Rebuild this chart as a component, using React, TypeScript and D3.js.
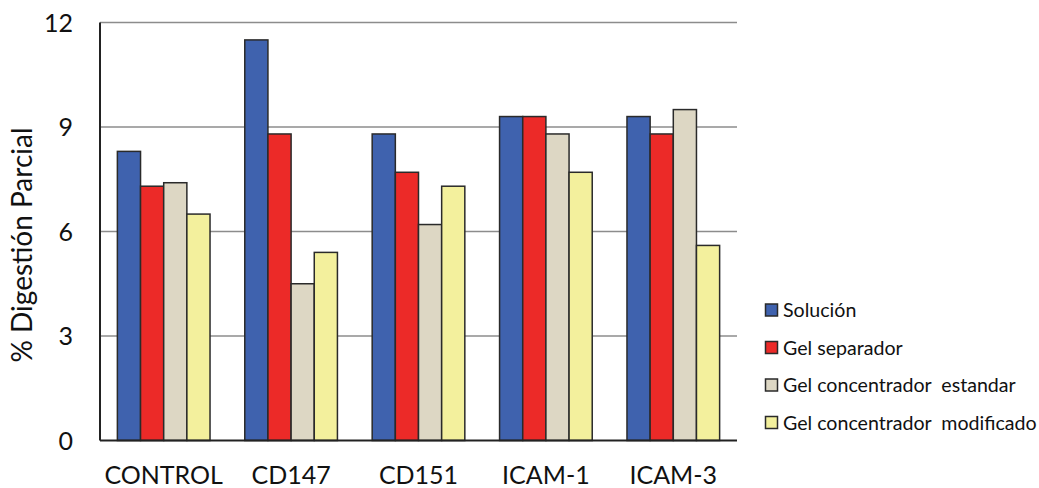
import React from "react";
import * as d3 from "d3";

const categories = ["CONTROL", "CD147", "CD151", "ICAM-1", "ICAM-3"];
const seriesNames = [
  "Solución",
  "Gel separador",
  "Gel concentrador  estandar",
  "Gel concentrador  modificado",
];
const solucion = [8.3, 11.5, 8.8, 9.3, 9.3];
const gelSeparador = [7.3, 8.8, 7.7, 9.3, 8.8];
const gelEstandar = [7.4, 4.5, 6.2, 8.8, 9.5];
const gelModificado = [6.5, 5.4, 7.3, 7.7, 5.6];
const yTicks = [0, 3, 6, 9, 12];

const colors = ["#3F62AE", "#EC2A28", "#DDD7C4", "#F3F09D"];
const FONT = "Lato, 'Open Sans', sans-serif";

export default function App() {
  const width = 1039;
  const height = 488;
  const m = { left: 100, right: 737, top: 22.5, bottom: 440.5 };

  const series = [solucion, gelSeparador, gelEstandar, gelModificado];

  const x0 = d3
    .scaleBand<string>()
    .domain(categories)
    .range([m.left, m.right])
    .paddingInner(0)
    .paddingOuter(0);
  const x1 = d3
    .scaleBand<number>()
    .domain(d3.range(series.length))
    .range([0, x0.bandwidth()])
    .paddingOuter(0.75)
    .paddingInner(0);
  const y = d3.scaleLinear().domain([0, 12]).range([m.bottom, m.top]);

  return (
    <svg
      width={width}
      height={height}
      style={{ position: "absolute", left: 0, top: 0, background: "#fff" }}
      fontFamily={FONT}
    >
      {yTicks
        .filter((t) => t > 0)
        .map((t) => (
          <line
            key={"g" + t}
            x1={m.left}
            x2={m.right}
            y1={y(t)}
            y2={y(t)}
            stroke="#8c8c8c"
            strokeWidth={1.5}
          />
        ))}
      {yTicks.map((t) => (
        <text
          key={"t" + t}
          x={73}
          y={y(t)}
          dy="0.36em"
          textAnchor="end"
          fontSize={25}
          fill="#111"
        >
          {t}
        </text>
      ))}
      {categories.map((c, ci) => (
        <g key={c}>
          {series.map((s, si) => (
            <rect
              key={si}
              x={x0(c)! + x1(si)!}
              y={y(s[ci])}
              width={x1.bandwidth()}
              height={y(0) - y(s[ci])}
              fill={colors[si]}
              stroke="#2a2a2a"
              strokeWidth={1.5}
            />
          ))}
          <text
            x={x0(c)! + x0.bandwidth() / 2}
            y={484}
            textAnchor="middle"
            fontSize={25}
            fill="#111"
          >
            {c}
          </text>
        </g>
      ))}
      <line x1={m.left} x2={m.left} y1={m.top} y2={m.bottom} stroke="#222" strokeWidth={2} />
      <line x1={m.left} x2={m.right} y1={m.bottom} y2={m.bottom} stroke="#222" strokeWidth={2} />
      <text
        transform={`translate(32,245) rotate(-90)`}
        textAnchor="middle"
        fontSize={28}
        fill="#111"
      >
        % Digestión Parcial
      </text>
      {seriesNames.map((n, i) => (
        <g key={n} transform={`translate(765,${310 + i * 37.5})`}>
          <rect x={0.5} y={-6} width={12} height={12} fill={colors[i]} stroke="#2a2a2a" strokeWidth={1.5} />
          <text x={18} y={0} dy="0.36em" fontSize={19.6} fill="#111" style={{ whiteSpace: "pre" }}>
            {n}
          </text>
        </g>
      ))}
    </svg>
  );
}
